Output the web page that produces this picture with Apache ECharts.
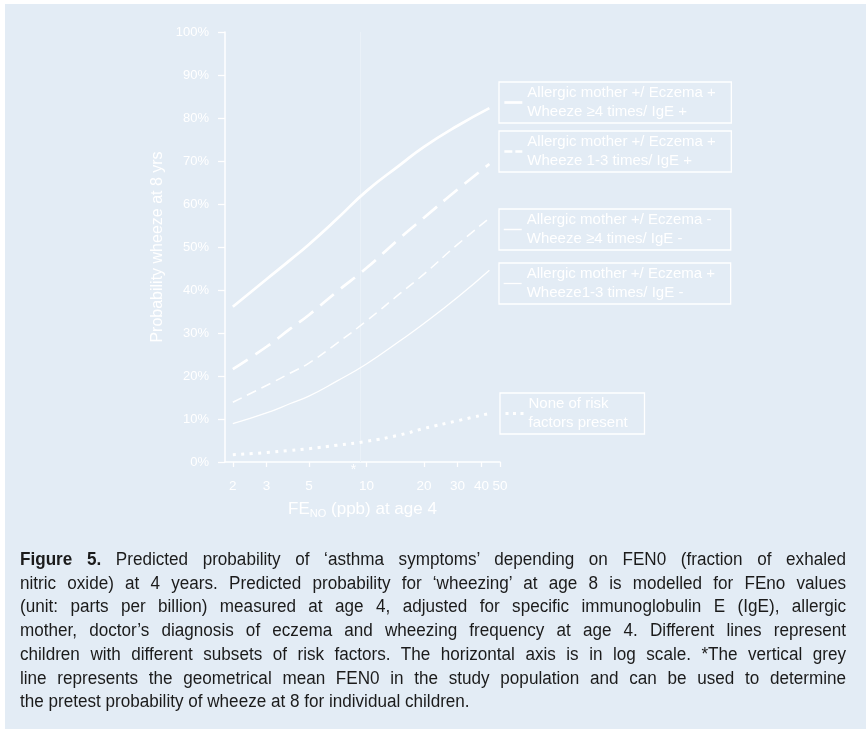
<!DOCTYPE html>
<html>
<head>
<meta charset="utf-8">
<script src="https://cdn.jsdelivr.net/npm/echarts@6/dist/echarts.min.js"></script>
<style>
html,body{margin:0;padding:0;background:#ffffff;width:866px;height:729px;overflow:hidden;}
#bg{position:absolute;left:5px;top:4px;width:861px;height:725px;background:#e3ecf5;}
#chart{position:absolute;left:0;top:0;width:866px;height:729px;}
#caption{position:absolute;left:20px;top:548px;width:826px;font-family:"Liberation Sans",Arial,sans-serif;font-size:18px;line-height:23.7px;color:#1b1b1b;transform-origin:0 0;}
#caption div{text-align:justify;text-align-last:justify;white-space:normal;}
#caption div.last{text-align-last:left;}
</style>
</head>
<body>
<div id="bg"></div>
<div id="chart"></div>
<div id="caption">
<div><b>Figure 5.</b> Predicted probability of ‘asthma symptoms’ depending on FEN0 (fraction of exhaled</div>
<div>nitric oxide) at 4 years. Predicted probability for ‘wheezing’ at age 8 is modelled for FEno values</div>
<div>(unit: parts per billion) measured at age 4, adjusted for specific immunoglobulin E (IgE), allergic</div>
<div>mother, doctor’s diagnosis of eczema and wheezing frequency at age 4. Different lines represent</div>
<div>children with different subsets of risk factors. The horizontal axis is in log scale. *The vertical grey</div>
<div>line represents the geometrical mean FEN0 in the study population and can be used to determine</div>
<div class="last">the pretest probability of wheeze at 8 for individual children.</div>
</div>
<script>
// ---- data ----
const fenoValues = [2, 3, 4, 5, 7, 10, 15, 20, 30, 44];
const allergicWheeze4IgEPos   = [36.1, 42.5, 47.0, 50.6, 56.5, 63.0, 69.1, 73.3, 78.2, 82.3];
const allergicWheeze13IgEPos  = [21.6, 26.8, 31.0, 34.2, 39.6, 45.1, 52.1, 56.8, 63.4, 69.3];
const allergicWheeze4IgENeg   = [13.9, 17.8, 20.7, 23.0, 27.6, 32.8, 39.2, 43.7, 50.6, 56.7];
const allergicWheeze13IgENeg  = [8.9, 11.4, 13.6, 15.3, 18.8, 22.8, 28.2, 32.2, 38.3, 44.6];
const noRiskFactors           = [1.7, 2.2, 2.7, 3.1, 3.9, 4.8, 6.3, 7.8, 9.6, 11.3];
const seriesNames = [
  'Allergic mother +/ Eczema +\nWheeze ≥4 times/ IgE +',
  'Allergic mother +/ Eczema +\nWheeze 1-3 times/ IgE +',
  'Allergic mother +/ Eczema -\nWheeze ≥4 times/ IgE -',
  'Allergic mother +/ Eczema +\nWheeze1-3 times/ IgE -',
  'None of risk\nfactors present'
];
const xTickValues = [2, 3, 5, 10, 20, 30, 40, 50];
const xMinFeno = 1.82, xMaxFeno = 50;
const geoMeanFeno = 9.3;

// ---- caption: condensed look via horizontal scaling ----
(function(){
  const cap = document.getElementById('caption');
  const c = document.createElement('canvas').getContext('2d');
  const lines = Array.from(cap.querySelectorAll('div')).map(d => d.textContent);
  c.font = '18px "Liberation Sans", Arial, sans-serif';
  const w = Math.max(...lines.map(l => c.measureText(l).width)) + 6;
  const k = Math.min(0.95, 812 / w);
  cap.style.width = (826 / k) + 'px';
  cap.style.transform = 'scaleX(' + k + ')';
})();

// ---- chart ----
const seriesData = [allergicWheeze4IgEPos, allergicWheeze13IgEPos, allergicWheeze4IgENeg, allergicWheeze13IgENeg, noRiskFactors];
const lineStyles = [
  {width: 2.7, type: 'solid'},
  {width: 2.7, type: [18, 9]},
  {width: 1.5, type: [10, 6]},
  {width: 1.3, type: 'solid'},
  {width: 3, type: [3, 5.5]}
];
const legendLayout = [
  {left: 499, top: 82, w: 200},
  {left: 499, top: 131, w: 200},
  {left: 499, top: 209, w: 200},
  {left: 499, top: 263, w: 200},
  {left: 500, top: 393, w: 112}
];
const legendIconStyles = [
  {type: 'solid', width: 2.7},
  {type: [8, 3], width: 2.7},
  {type: 'solid', width: 1.5},
  {type: 'solid', width: 1.3},
  {type: [3, 4.5], width: 3}
];

const chart = echarts.init(document.getElementById('chart'), null, {renderer: 'canvas'});
const white = '#ffffff';
const option = {
  animation: false,
  textStyle: {fontFamily: '"Liberation Sans", Arial, sans-serif'},
  grid: {left: 225, right: 366, top: 32, bottom: 267, containLabel: false},
  xAxis: {
    type: 'value',
    min: Math.log10(xMinFeno),
    max: Math.log10(xMaxFeno),
    axisLine: {show: true, lineStyle: {color: white, width: 1.5}},
    axisTick: {show: true, length: 5, customValues: xTickValues.map(v => Math.log10(v)), lineStyle: {color: white, width: 1.3}},
    axisLabel: {
      show: true, color: white, fontSize: 13.5, margin: 17,
      customValues: xTickValues.map(v => Math.log10(v)),
      formatter: v => String(Math.round(Math.pow(10, v)))
    },
    splitLine: {show: false},
    name: '{a|FE}{s|NO}{a| (ppb) at age 4}',
    nameLocation: 'middle',
    nameGap: 36,
    nameTextStyle: {
      color: white,
      rich: {
        a: {color: white, fontSize: 17, lineHeight: 22},
        s: {color: white, fontSize: 11, lineHeight: 22, padding: [10, 0, 0, 0]}
      }
    }
  },
  yAxis: {
    type: 'value',
    min: 0, max: 100, interval: 10,
    axisLine: {show: true, lineStyle: {color: white, width: 1.5}},
    axisTick: {show: true, length: 7, lineStyle: {color: white, width: 1.3}},
    axisLabel: {color: white, fontSize: 13, margin: 16, formatter: '{value}%'},
    splitLine: {show: false},
    name: 'Probability wheeze at 8 yrs',
    nameLocation: 'middle',
    nameGap: 59,
    nameTextStyle: {color: white, fontSize: 16}
  },
  legend: seriesNames.map((n, i) => ({
    data: [n],
    left: legendLayout[i].left,
    top: legendLayout[i].top,
    orient: 'vertical',
    selectedMode: false,
    padding: [2, 4, 2, 4],
    borderColor: white,
    borderWidth: 1.3,
    itemWidth: 18,
    itemHeight: 14,
    itemGap: 0,
    itemStyle: {opacity: 0, color: 'rgba(0,0,0,0)', borderWidth: 0},
    lineStyle: legendIconStyles[i],
    textStyle: {color: white, fontSize: 15, lineHeight: 18.5, width: legendLayout[i].w}
  })),
  series: seriesNames.map((n, i) => {
    const s = {
      name: n,
      type: 'line',
      smooth: 0.5,
      symbol: 'none',
      silent: true,
      color: white,
      lineStyle: Object.assign({color: white}, lineStyles[i]),
      data: fenoValues.map((f, j) => [Math.log10(f), seriesData[i][j]])
    };
    if (i === 0) {
      s.markLine = {
        silent: true, symbol: 'none', z: 1,
        label: {show: false},
        lineStyle: {color: '#eaf1f8', width: 1, type: 'solid'},
        data: [{xAxis: Math.log10(geoMeanFeno)}]
      };
      s.markPoint = {
        silent: true, symbol: 'circle', symbolSize: 0,
        label: {show: true, position: 'bottom', distance: 1, offset: [-7, 0], formatter: '*', color: white, fontSize: 14},
        data: [{coord: [Math.log10(geoMeanFeno), 0]}]
      };
    }
    return s;
  })
};
chart.setOption(option);
</script>
</body>
</html>
